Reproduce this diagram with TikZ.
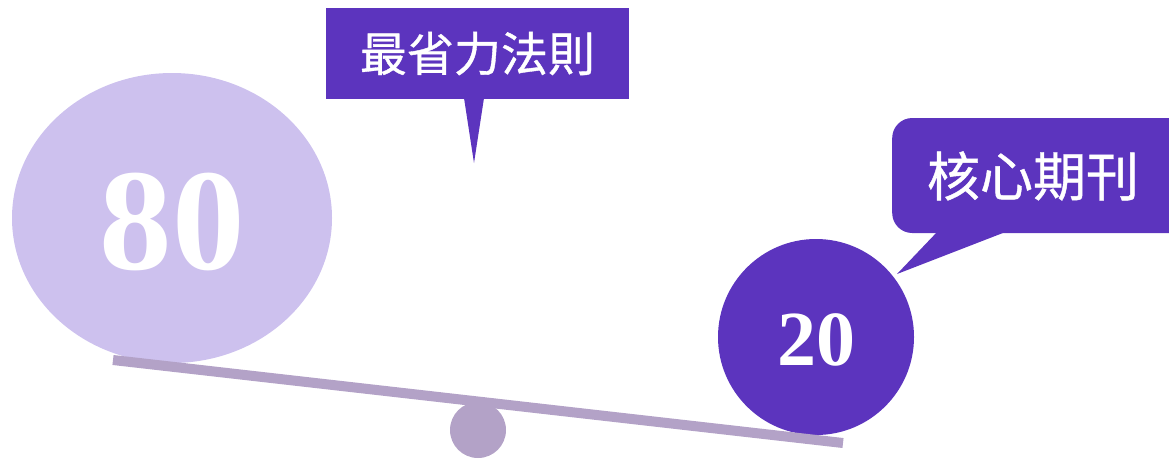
\documentclass[tikz,border=0pt]{standalone}
\usetikzlibrary{shapes.geometric}
\usepackage{fontspec}
\newfontfamily\cjkfont[FakeBold=0.8]{Noto Sans CJK TC}
\newfontfamily\numfont{Liberation Serif}
\definecolor{darkpurple}{HTML}{5C34BE}
\definecolor{lightpurple}{HTML}{CDC1EE}
\definecolor{beamcol}{HTML}{B3A2C7}
\tikzset{
  bubble/.style={fill=darkpurple, draw=none, text=white, inner sep=0pt, font=\cjkfont},
  pointer/.style={fill=darkpurple, draw=none},
  numtext/.style={text=white, font=\numfont\bfseries},
}
\begin{document}
\begin{tikzpicture}[x=1pt,y=-1pt]
\useasboundingbox (0,0) rectangle (1169,459);
% big ellipse
\node[ellipse, fill=lightpurple, draw=none, minimum width=320pt, minimum height=290pt, inner sep=0pt] (big) at (172,218) {};
\node[numtext, font=\numfont\bfseries\fontsize{145}{150}\selectfont] (n80) at (172,222) {80};
% pivot
\node[circle, fill=beamcol, minimum size=56pt, inner sep=0pt] (pivot) at (478,430) {};
% small circle
\node[circle, fill=darkpurple, minimum size=196pt, inner sep=0pt] (small) at (816,337) {};
\node[numtext, font=\numfont\bfseries\fontsize{78}{80}\selectfont] (n20) at (816,340) {20};
% beam
\coordinate (bl) at (113,360);
\coordinate (br) at (843,443);
\draw[beamcol, line width=10pt] (bl) -- (br);
% callout 1
\node[bubble, minimum width=303pt, minimum height=91pt, font=\cjkfont\fontsize{47}{52}\selectfont] (c1) at (477.5,53.5) {最省力法則};
\coordinate (p1a) at (464,98);
\coordinate (p1b) at (484,98);
\coordinate (p1t) at (474,163);
\fill[pointer] (p1a) -- (p1t) -- (p1b) -- cycle;
% callout 2
\node[bubble, rounded corners=20pt, minimum width=297pt, minimum height=115pt, anchor=west] (c2) at (892,175.5) {};
\node[text=white, font=\cjkfont\fontsize{53}{58}\selectfont, inner sep=0pt] (t2) at (1033,176) {核心期刊};
\coordinate (p2a) at (938,231);
\coordinate (p2b) at (1008,231);
\coordinate (p2t) at (897,274);
\fill[pointer] (p2a) -- (p2t) -- (p2b) -- cycle;
\end{tikzpicture}
\end{document}
